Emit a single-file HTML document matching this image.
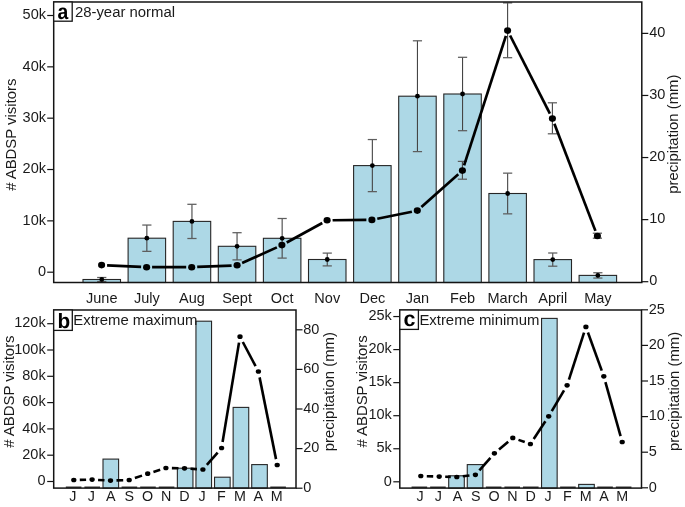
<!DOCTYPE html>
<html><head><meta charset="utf-8"><style>
html,body{margin:0;padding:0;background:#fff;overflow:hidden;}
svg{display:block;font-family:"Liberation Sans", sans-serif;will-change:transform;}
</style></head><body>
<svg width="685" height="507" viewBox="0 0 685 507">
<rect width="685" height="507" fill="#fff"/>
<rect x="83.0" y="279.5" width="37.5" height="3.0" fill="#add8e6" stroke="#262626" stroke-width="1.1"/>
<rect x="128.1" y="238.2" width="37.5" height="44.3" fill="#add8e6" stroke="#262626" stroke-width="1.1"/>
<rect x="173.2" y="221.4" width="37.5" height="61.1" fill="#add8e6" stroke="#262626" stroke-width="1.1"/>
<rect x="218.3" y="246.3" width="37.5" height="36.2" fill="#add8e6" stroke="#262626" stroke-width="1.1"/>
<rect x="263.4" y="238.3" width="37.5" height="44.2" fill="#add8e6" stroke="#262626" stroke-width="1.1"/>
<rect x="308.5" y="259.5" width="37.5" height="23.0" fill="#add8e6" stroke="#262626" stroke-width="1.1"/>
<rect x="353.6" y="165.6" width="37.5" height="116.9" fill="#add8e6" stroke="#262626" stroke-width="1.1"/>
<rect x="398.7" y="96.2" width="37.5" height="186.3" fill="#add8e6" stroke="#262626" stroke-width="1.1"/>
<rect x="443.8" y="94.0" width="37.5" height="188.5" fill="#add8e6" stroke="#262626" stroke-width="1.1"/>
<rect x="488.9" y="193.5" width="37.5" height="89.0" fill="#add8e6" stroke="#262626" stroke-width="1.1"/>
<rect x="534.0" y="259.6" width="37.5" height="22.9" fill="#add8e6" stroke="#262626" stroke-width="1.1"/>
<rect x="579.1" y="275.4" width="37.5" height="7.1" fill="#add8e6" stroke="#262626" stroke-width="1.1"/>
<line x1="101.75" y1="277.5" x2="101.75" y2="281.5" stroke="#454545" stroke-width="1.1"/>
<line x1="97.15" y1="277.5" x2="106.35" y2="277.5" stroke="#5e5e5e" stroke-width="1.25"/>
<line x1="97.15" y1="281.5" x2="106.35" y2="281.5" stroke="#5e5e5e" stroke-width="1.25"/>
<circle cx="101.75" cy="279.5" r="2.4" fill="#000"/>
<line x1="146.85" y1="225.05" x2="146.85" y2="251.35" stroke="#454545" stroke-width="1.1"/>
<line x1="142.25" y1="225.05" x2="151.45" y2="225.05" stroke="#5e5e5e" stroke-width="1.25"/>
<line x1="142.25" y1="251.35" x2="151.45" y2="251.35" stroke="#5e5e5e" stroke-width="1.25"/>
<circle cx="146.85" cy="238.2" r="2.4" fill="#000"/>
<line x1="191.95" y1="204.3" x2="191.95" y2="238.5" stroke="#454545" stroke-width="1.1"/>
<line x1="187.35" y1="204.3" x2="196.55" y2="204.3" stroke="#5e5e5e" stroke-width="1.25"/>
<line x1="187.35" y1="238.5" x2="196.55" y2="238.5" stroke="#5e5e5e" stroke-width="1.25"/>
<circle cx="191.95" cy="221.39999999999998" r="2.4" fill="#000"/>
<line x1="237.05" y1="232.7" x2="237.05" y2="259.9" stroke="#454545" stroke-width="1.1"/>
<line x1="232.45" y1="232.7" x2="241.65" y2="232.7" stroke="#5e5e5e" stroke-width="1.25"/>
<line x1="232.45" y1="259.9" x2="241.65" y2="259.9" stroke="#5e5e5e" stroke-width="1.25"/>
<circle cx="237.05" cy="246.29999999999998" r="2.4" fill="#000"/>
<line x1="282.15" y1="218.5" x2="282.15" y2="258.1" stroke="#454545" stroke-width="1.1"/>
<line x1="277.55" y1="218.5" x2="286.75" y2="218.5" stroke="#5e5e5e" stroke-width="1.25"/>
<line x1="277.55" y1="258.1" x2="286.75" y2="258.1" stroke="#5e5e5e" stroke-width="1.25"/>
<circle cx="282.15" cy="238.29999999999998" r="2.4" fill="#000"/>
<line x1="327.25" y1="253.1" x2="327.25" y2="265.9" stroke="#454545" stroke-width="1.1"/>
<line x1="322.65" y1="253.1" x2="331.85" y2="253.1" stroke="#5e5e5e" stroke-width="1.25"/>
<line x1="322.65" y1="265.9" x2="331.85" y2="265.9" stroke="#5e5e5e" stroke-width="1.25"/>
<circle cx="327.25" cy="259.5" r="2.4" fill="#000"/>
<line x1="372.35" y1="139.55" x2="372.35" y2="191.65" stroke="#454545" stroke-width="1.1"/>
<line x1="367.75" y1="139.55" x2="376.95" y2="139.55" stroke="#5e5e5e" stroke-width="1.25"/>
<line x1="367.75" y1="191.65" x2="376.95" y2="191.65" stroke="#5e5e5e" stroke-width="1.25"/>
<circle cx="372.35" cy="165.6" r="2.4" fill="#000"/>
<line x1="417.45" y1="40.8" x2="417.45" y2="151.6" stroke="#454545" stroke-width="1.1"/>
<line x1="412.85" y1="40.8" x2="422.05" y2="40.8" stroke="#5e5e5e" stroke-width="1.25"/>
<line x1="412.85" y1="151.6" x2="422.05" y2="151.6" stroke="#5e5e5e" stroke-width="1.25"/>
<circle cx="417.45" cy="96.2" r="2.4" fill="#000"/>
<line x1="462.55" y1="57.3" x2="462.55" y2="130.7" stroke="#454545" stroke-width="1.1"/>
<line x1="457.95" y1="57.3" x2="467.15" y2="57.3" stroke="#5e5e5e" stroke-width="1.25"/>
<line x1="457.95" y1="130.7" x2="467.15" y2="130.7" stroke="#5e5e5e" stroke-width="1.25"/>
<circle cx="462.55" cy="94.0" r="2.4" fill="#000"/>
<line x1="507.65" y1="173.15" x2="507.65" y2="213.85" stroke="#454545" stroke-width="1.1"/>
<line x1="503.05" y1="173.15" x2="512.25" y2="173.15" stroke="#5e5e5e" stroke-width="1.25"/>
<line x1="503.05" y1="213.85" x2="512.25" y2="213.85" stroke="#5e5e5e" stroke-width="1.25"/>
<circle cx="507.65000000000003" cy="193.5" r="2.4" fill="#000"/>
<line x1="552.75" y1="253.0" x2="552.75" y2="266.2" stroke="#454545" stroke-width="1.1"/>
<line x1="548.15" y1="253.0" x2="557.35" y2="253.0" stroke="#5e5e5e" stroke-width="1.25"/>
<line x1="548.15" y1="266.2" x2="557.35" y2="266.2" stroke="#5e5e5e" stroke-width="1.25"/>
<circle cx="552.75" cy="259.59999999999997" r="2.4" fill="#000"/>
<line x1="597.85" y1="272.75" x2="597.85" y2="278.05" stroke="#454545" stroke-width="1.1"/>
<line x1="593.25" y1="272.75" x2="602.45" y2="272.75" stroke="#5e5e5e" stroke-width="1.25"/>
<line x1="593.25" y1="278.05" x2="602.45" y2="278.05" stroke="#5e5e5e" stroke-width="1.25"/>
<circle cx="597.85" cy="275.4" r="2.4" fill="#000"/>
<line x1="462.4" y1="161.4" x2="462.4" y2="179.2" stroke="#454545" stroke-width="1.1"/>
<line x1="457.8" y1="161.4" x2="467.0" y2="161.4" stroke="#5e5e5e" stroke-width="1.25"/>
<line x1="457.8" y1="179.2" x2="467.0" y2="179.2" stroke="#5e5e5e" stroke-width="1.25"/>
<line x1="507.6" y1="2.9" x2="507.6" y2="57.7" stroke="#454545" stroke-width="1.1"/>
<line x1="503.0" y1="2.9" x2="512.2" y2="2.9" stroke="#5e5e5e" stroke-width="1.25"/>
<line x1="503.0" y1="57.7" x2="512.2" y2="57.7" stroke="#5e5e5e" stroke-width="1.25"/>
<line x1="552.4" y1="102.8" x2="552.4" y2="133.8" stroke="#454545" stroke-width="1.1"/>
<line x1="547.8" y1="102.8" x2="557.0" y2="102.8" stroke="#5e5e5e" stroke-width="1.25"/>
<line x1="547.8" y1="133.8" x2="557.0" y2="133.8" stroke="#5e5e5e" stroke-width="1.25"/>
<line x1="597.4" y1="233.2" x2="597.4" y2="238.2" stroke="#454545" stroke-width="1.1"/>
<line x1="592.8" y1="233.2" x2="602.0" y2="233.2" stroke="#5e5e5e" stroke-width="1.25"/>
<line x1="592.8" y1="238.2" x2="602.0" y2="238.2" stroke="#5e5e5e" stroke-width="1.25"/>
<line x1="107.09" y1="265.36" x2="141.11" y2="266.94" stroke="#000" stroke-width="2.7" stroke-linecap="butt"/>
<line x1="152.1" y1="267.2" x2="186.2" y2="267.2" stroke="#000" stroke-width="2.7" stroke-linecap="butt"/>
<line x1="197.2" y1="266.97" x2="231.6" y2="265.53" stroke="#000" stroke-width="2.7" stroke-linecap="butt"/>
<line x1="242.11" y1="263.04" x2="276.89" y2="247.36" stroke="#000" stroke-width="2.7" stroke-linecap="butt"/>
<line x1="286.72" y1="242.45" x2="322.28" y2="222.95" stroke="#000" stroke-width="2.7" stroke-linecap="butt"/>
<line x1="332.6" y1="220.25" x2="366.4" y2="219.95" stroke="#000" stroke-width="2.7" stroke-linecap="butt"/>
<line x1="377.29" y1="218.8" x2="411.91" y2="211.7" stroke="#000" stroke-width="2.7" stroke-linecap="butt"/>
<line x1="421.41" y1="206.95" x2="458.29" y2="174.25" stroke="#000" stroke-width="2.7" stroke-linecap="butt"/>
<line x1="464.09" y1="165.37" x2="505.91" y2="35.83" stroke="#000" stroke-width="2.7" stroke-linecap="butt"/>
<line x1="510.1" y1="35.5" x2="549.9" y2="113.7" stroke="#000" stroke-width="2.7" stroke-linecap="butt"/>
<line x1="554.37" y1="123.74" x2="595.43" y2="230.86" stroke="#000" stroke-width="2.7" stroke-linecap="butt"/>
<ellipse cx="101.6" cy="265.1" rx="3.55" ry="3.3" fill="#000"/>
<ellipse cx="146.6" cy="267.2" rx="3.55" ry="3.3" fill="#000"/>
<ellipse cx="191.7" cy="267.2" rx="3.55" ry="3.3" fill="#000"/>
<ellipse cx="237.1" cy="265.3" rx="3.55" ry="3.3" fill="#000"/>
<ellipse cx="281.9" cy="245.1" rx="3.55" ry="3.3" fill="#000"/>
<ellipse cx="327.1" cy="220.3" rx="3.55" ry="3.3" fill="#000"/>
<ellipse cx="371.9" cy="219.9" rx="3.55" ry="3.3" fill="#000"/>
<ellipse cx="417.3" cy="210.6" rx="3.55" ry="3.3" fill="#000"/>
<ellipse cx="462.4" cy="170.6" rx="3.55" ry="3.3" fill="#000"/>
<ellipse cx="507.6" cy="30.6" rx="3.55" ry="3.3" fill="#000"/>
<ellipse cx="552.4" cy="118.6" rx="3.55" ry="3.3" fill="#000"/>
<ellipse cx="597.4" cy="236.0" rx="3.55" ry="3.3" fill="#000"/>
<rect x="53.7" y="2" width="588.0999999999999" height="280.5" fill="none" stroke="#141414" stroke-width="1.5"/>
<line x1="47.2" y1="272.2" x2="53.7" y2="272.2" stroke="#141414" stroke-width="1.2"/>
<text x="46" y="275.9" font-size="14.5" text-anchor="end" font-weight="normal" fill="#1a1a1a">0</text>
<line x1="47.2" y1="220.86" x2="53.7" y2="220.86" stroke="#141414" stroke-width="1.2"/>
<text x="46" y="224.56" font-size="14.5" text-anchor="end" font-weight="normal" fill="#1a1a1a">10k</text>
<line x1="47.2" y1="169.52" x2="53.7" y2="169.52" stroke="#141414" stroke-width="1.2"/>
<text x="46" y="173.22" font-size="14.5" text-anchor="end" font-weight="normal" fill="#1a1a1a">20k</text>
<line x1="47.2" y1="118.18" x2="53.7" y2="118.18" stroke="#141414" stroke-width="1.2"/>
<text x="46" y="121.88" font-size="14.5" text-anchor="end" font-weight="normal" fill="#1a1a1a">30k</text>
<line x1="47.2" y1="66.84" x2="53.7" y2="66.84" stroke="#141414" stroke-width="1.2"/>
<text x="46" y="70.54" font-size="14.5" text-anchor="end" font-weight="normal" fill="#1a1a1a">40k</text>
<line x1="47.2" y1="15.5" x2="53.7" y2="15.5" stroke="#141414" stroke-width="1.2"/>
<text x="46" y="19.2" font-size="14.5" text-anchor="end" font-weight="normal" fill="#1a1a1a">50k</text>
<line x1="641.8" y1="281.7" x2="648.3" y2="281.7" stroke="#141414" stroke-width="1.2"/>
<text x="649.3" y="285.4" font-size="14.5" text-anchor="start" font-weight="normal" fill="#1a1a1a">0</text>
<line x1="641.8" y1="219.62" x2="648.3" y2="219.62" stroke="#141414" stroke-width="1.2"/>
<text x="649.3" y="223.32" font-size="14.5" text-anchor="start" font-weight="normal" fill="#1a1a1a">10</text>
<line x1="641.8" y1="157.54" x2="648.3" y2="157.54" stroke="#141414" stroke-width="1.2"/>
<text x="649.3" y="161.24" font-size="14.5" text-anchor="start" font-weight="normal" fill="#1a1a1a">20</text>
<line x1="641.8" y1="95.46" x2="648.3" y2="95.46" stroke="#141414" stroke-width="1.2"/>
<text x="649.3" y="99.16" font-size="14.5" text-anchor="start" font-weight="normal" fill="#1a1a1a">30</text>
<line x1="641.8" y1="33.38" x2="648.3" y2="33.38" stroke="#141414" stroke-width="1.2"/>
<text x="649.3" y="37.08" font-size="14.5" text-anchor="start" font-weight="normal" fill="#1a1a1a">40</text>
<text x="101.75" y="303.4" font-size="14.5" text-anchor="middle" font-weight="normal" fill="#1a1a1a">June</text>
<text x="146.85" y="303.4" font-size="14.5" text-anchor="middle" font-weight="normal" fill="#1a1a1a">July</text>
<text x="191.95" y="303.4" font-size="14.5" text-anchor="middle" font-weight="normal" fill="#1a1a1a">Aug</text>
<text x="237.05" y="303.4" font-size="14.5" text-anchor="middle" font-weight="normal" fill="#1a1a1a">Sept</text>
<text x="282.15" y="303.4" font-size="14.5" text-anchor="middle" font-weight="normal" fill="#1a1a1a">Oct</text>
<text x="327.25" y="303.4" font-size="14.5" text-anchor="middle" font-weight="normal" fill="#1a1a1a">Nov</text>
<text x="372.35" y="303.4" font-size="14.5" text-anchor="middle" font-weight="normal" fill="#1a1a1a">Dec</text>
<text x="417.45" y="303.4" font-size="14.5" text-anchor="middle" font-weight="normal" fill="#1a1a1a">Jan</text>
<text x="462.55" y="303.4" font-size="14.5" text-anchor="middle" font-weight="normal" fill="#1a1a1a">Feb</text>
<text x="507.65" y="303.4" font-size="14.5" text-anchor="middle" font-weight="normal" fill="#1a1a1a">March</text>
<text x="552.75" y="303.4" font-size="14.5" text-anchor="middle" font-weight="normal" fill="#1a1a1a">April</text>
<text x="597.85" y="303.4" font-size="14.5" text-anchor="middle" font-weight="normal" fill="#1a1a1a">May</text>
<rect x="53.7" y="2" width="18.5" height="19.2" fill="#fff" stroke="#141414" stroke-width="1.3"/>
<text x="57.4" y="18.5" font-size="21.5" text-anchor="start" font-weight="bold" fill="#000" transform="translate(57.4 18.5) scale(0.9 1) translate(-57.4 -18.5)" text-rendering="geometricPrecision">a</text>
<text x="74.9" y="17.1" font-size="14.9" text-anchor="start" font-weight="normal" fill="#1a1a1a">28-year normal</text>
<text x="16" y="134.7" font-size="14.9" text-anchor="middle" font-weight="normal" fill="#1a1a1a" transform="rotate(-90 16 134.7)"># ABDSP visitors</text>
<text x="677.9" y="134.1" font-size="14.9" text-anchor="middle" font-weight="normal" fill="#1a1a1a" transform="rotate(-90 677.9 134.1)">precipitation (mm)</text>
<rect x="65.82" y="486.5" width="15.6" height="1.6" fill="#333"/>
<rect x="84.41" y="486.5" width="15.6" height="1.6" fill="#333"/>
<rect x="103.0" y="459.1" width="15.6" height="29.0" fill="#add8e6" stroke="#262626" stroke-width="1.1"/>
<rect x="121.59" y="486.5" width="15.6" height="1.6" fill="#333"/>
<rect x="140.18" y="486.5" width="15.6" height="1.6" fill="#333"/>
<rect x="158.77" y="486.5" width="15.6" height="1.6" fill="#333"/>
<rect x="177.36" y="468.2" width="15.6" height="19.9" fill="#add8e6" stroke="#262626" stroke-width="1.1"/>
<rect x="195.95" y="321.2" width="15.6" height="166.9" fill="#add8e6" stroke="#262626" stroke-width="1.1"/>
<rect x="214.54" y="477.2" width="15.6" height="10.9" fill="#add8e6" stroke="#262626" stroke-width="1.1"/>
<rect x="233.13" y="407.4" width="15.6" height="80.7" fill="#add8e6" stroke="#262626" stroke-width="1.1"/>
<rect x="251.72" y="464.6" width="15.6" height="23.5" fill="#add8e6" stroke="#262626" stroke-width="1.1"/>
<rect x="270.31" y="486.5" width="15.6" height="1.6" fill="#333"/>
<line x1="79.8" y1="479.87" x2="86.1" y2="479.73" stroke="#000" stroke-width="2.6" stroke-linecap="butt"/>
<line x1="98.09" y1="479.93" x2="104.51" y2="480.27" stroke="#000" stroke-width="2.6" stroke-linecap="butt"/>
<line x1="116.5" y1="480.41" x2="123.2" y2="480.19" stroke="#000" stroke-width="2.6" stroke-linecap="butt"/>
<line x1="134.88" y1="478.07" x2="142.02" y2="475.63" stroke="#000" stroke-width="2.6" stroke-linecap="butt"/>
<line x1="153.43" y1="471.91" x2="160.17" y2="469.79" stroke="#000" stroke-width="2.6" stroke-linecap="butt"/>
<line x1="171.9" y1="468.1" x2="178.5" y2="468.2" stroke="#000" stroke-width="2.6" stroke-linecap="butt"/>
<line x1="190.49" y1="468.69" x2="196.91" y2="469.11" stroke="#000" stroke-width="2.6" stroke-linecap="butt"/>
<line x1="206.84" y1="464.97" x2="217.66" y2="452.53" stroke="#000" stroke-width="2.6" stroke-linecap="butt"/>
<line x1="222.58" y1="442.08" x2="239.02" y2="342.62" stroke="#000" stroke-width="2.6" stroke-linecap="butt"/>
<line x1="242.8" y1="342.0" x2="255.6" y2="366.2" stroke="#000" stroke-width="2.6" stroke-linecap="butt"/>
<line x1="259.58" y1="377.38" x2="276.02" y2="459.12" stroke="#000" stroke-width="2.6" stroke-linecap="butt"/>
<ellipse cx="73.8" cy="480" rx="2.65" ry="2.35" fill="#000"/>
<ellipse cx="92.1" cy="479.6" rx="2.65" ry="2.35" fill="#000"/>
<ellipse cx="110.5" cy="480.6" rx="2.65" ry="2.35" fill="#000"/>
<ellipse cx="129.2" cy="480" rx="2.65" ry="2.35" fill="#000"/>
<ellipse cx="147.7" cy="473.7" rx="2.65" ry="2.35" fill="#000"/>
<ellipse cx="165.9" cy="468" rx="2.65" ry="2.35" fill="#000"/>
<ellipse cx="184.5" cy="468.3" rx="2.65" ry="2.35" fill="#000"/>
<ellipse cx="202.9" cy="469.5" rx="2.65" ry="2.35" fill="#000"/>
<ellipse cx="221.6" cy="448" rx="2.65" ry="2.35" fill="#000"/>
<ellipse cx="240" cy="336.7" rx="2.65" ry="2.35" fill="#000"/>
<ellipse cx="258.4" cy="371.5" rx="2.65" ry="2.35" fill="#000"/>
<ellipse cx="277.2" cy="465" rx="2.65" ry="2.35" fill="#000"/>
<rect x="53.7" y="310" width="242.3" height="178.10000000000002" fill="none" stroke="#141414" stroke-width="1.5"/>
<line x1="47.2" y1="481.5" x2="53.7" y2="481.5" stroke="#141414" stroke-width="1.2"/>
<text x="45.7" y="485.2" font-size="14.5" text-anchor="end" font-weight="normal" fill="#1a1a1a">0</text>
<line x1="47.2" y1="455.2" x2="53.7" y2="455.2" stroke="#141414" stroke-width="1.2"/>
<text x="45.7" y="458.9" font-size="14.5" text-anchor="end" font-weight="normal" fill="#1a1a1a">20k</text>
<line x1="47.2" y1="428.9" x2="53.7" y2="428.9" stroke="#141414" stroke-width="1.2"/>
<text x="45.7" y="432.6" font-size="14.5" text-anchor="end" font-weight="normal" fill="#1a1a1a">40k</text>
<line x1="47.2" y1="402.6" x2="53.7" y2="402.6" stroke="#141414" stroke-width="1.2"/>
<text x="45.7" y="406.3" font-size="14.5" text-anchor="end" font-weight="normal" fill="#1a1a1a">60k</text>
<line x1="47.2" y1="376.3" x2="53.7" y2="376.3" stroke="#141414" stroke-width="1.2"/>
<text x="45.7" y="380.0" font-size="14.5" text-anchor="end" font-weight="normal" fill="#1a1a1a">80k</text>
<line x1="47.2" y1="350.0" x2="53.7" y2="350.0" stroke="#141414" stroke-width="1.2"/>
<text x="45.7" y="353.7" font-size="14.5" text-anchor="end" font-weight="normal" fill="#1a1a1a">100k</text>
<line x1="47.2" y1="323.7" x2="53.7" y2="323.7" stroke="#141414" stroke-width="1.2"/>
<text x="45.7" y="327.4" font-size="14.5" text-anchor="end" font-weight="normal" fill="#1a1a1a">120k</text>
<line x1="296" y1="488.2" x2="302.5" y2="488.2" stroke="#141414" stroke-width="1.2"/>
<text x="303.3" y="491.9" font-size="14.5" text-anchor="start" font-weight="normal" fill="#1a1a1a">0</text>
<line x1="296" y1="448.6" x2="302.5" y2="448.6" stroke="#141414" stroke-width="1.2"/>
<text x="303.3" y="452.3" font-size="14.5" text-anchor="start" font-weight="normal" fill="#1a1a1a">20</text>
<line x1="296" y1="409.0" x2="302.5" y2="409.0" stroke="#141414" stroke-width="1.2"/>
<text x="303.3" y="412.7" font-size="14.5" text-anchor="start" font-weight="normal" fill="#1a1a1a">40</text>
<line x1="296" y1="369.4" x2="302.5" y2="369.4" stroke="#141414" stroke-width="1.2"/>
<text x="303.3" y="373.1" font-size="14.5" text-anchor="start" font-weight="normal" fill="#1a1a1a">60</text>
<line x1="296" y1="329.8" x2="302.5" y2="329.8" stroke="#141414" stroke-width="1.2"/>
<text x="303.3" y="333.5" font-size="14.5" text-anchor="start" font-weight="normal" fill="#1a1a1a">80</text>
<text x="72.9" y="501.2" font-size="14.3" text-anchor="middle" font-weight="normal" fill="#1a1a1a">J</text>
<text x="91.35" y="501.2" font-size="14.3" text-anchor="middle" font-weight="normal" fill="#1a1a1a">J</text>
<text x="110.7" y="501.2" font-size="14.3" text-anchor="middle" font-weight="normal" fill="#1a1a1a">A</text>
<text x="129.15" y="501.2" font-size="14.3" text-anchor="middle" font-weight="normal" fill="#1a1a1a">S</text>
<text x="147.6" y="501.2" font-size="14.3" text-anchor="middle" font-weight="normal" fill="#1a1a1a">O</text>
<text x="166.05" y="501.2" font-size="14.3" text-anchor="middle" font-weight="normal" fill="#1a1a1a">N</text>
<text x="184.5" y="501.2" font-size="14.3" text-anchor="middle" font-weight="normal" fill="#1a1a1a">D</text>
<text x="202.05" y="501.2" font-size="14.3" text-anchor="middle" font-weight="normal" fill="#1a1a1a">J</text>
<text x="221.4" y="501.2" font-size="14.3" text-anchor="middle" font-weight="normal" fill="#1a1a1a">F</text>
<text x="239.85" y="501.2" font-size="14.3" text-anchor="middle" font-weight="normal" fill="#1a1a1a">M</text>
<text x="258.3" y="501.2" font-size="14.3" text-anchor="middle" font-weight="normal" fill="#1a1a1a">A</text>
<text x="276.75" y="501.2" font-size="14.3" text-anchor="middle" font-weight="normal" fill="#1a1a1a">M</text>
<rect x="53.7" y="310" width="18.6" height="20.4" fill="#fff" stroke="#141414" stroke-width="1.3"/>
<text x="57.6" y="328.4" font-size="20.8" text-anchor="start" font-weight="bold" fill="#000" text-rendering="geometricPrecision">b</text>
<text x="73.3" y="325.1" font-size="14.9" text-anchor="start" font-weight="normal" fill="#1a1a1a">Extreme maximum</text>
<text x="14.2" y="391.6" font-size="14.9" text-anchor="middle" font-weight="normal" fill="#1a1a1a" transform="rotate(-90 14.2 391.6)"># ABDSP visitors</text>
<text x="334.5" y="391.6" font-size="14.9" text-anchor="middle" font-weight="normal" fill="#1a1a1a" transform="rotate(-90 334.5 391.6)">precipitation (mm)</text>
<rect x="411.56" y="486.5" width="15.6" height="1.6" fill="#333"/>
<rect x="430.13" y="486.5" width="15.6" height="1.6" fill="#333"/>
<rect x="448.7" y="475.8" width="15.6" height="12.3" fill="#add8e6" stroke="#262626" stroke-width="1.1"/>
<rect x="467.27" y="464.6" width="15.6" height="23.5" fill="#add8e6" stroke="#262626" stroke-width="1.1"/>
<rect x="485.84" y="486.5" width="15.6" height="1.6" fill="#333"/>
<rect x="504.41" y="486.5" width="15.6" height="1.6" fill="#333"/>
<rect x="522.98" y="486.5" width="15.6" height="1.6" fill="#333"/>
<rect x="541.55" y="318.4" width="15.6" height="169.7" fill="#add8e6" stroke="#262626" stroke-width="1.1"/>
<rect x="560.12" y="486.5" width="15.6" height="1.6" fill="#333"/>
<rect x="578.69" y="484.4" width="15.6" height="3.7" fill="#add8e6" stroke="#262626" stroke-width="1.1"/>
<rect x="597.26" y="486.5" width="15.6" height="1.6" fill="#333"/>
<rect x="615.83" y="486.5" width="15.6" height="1.6" fill="#333"/>
<line x1="426.8" y1="476.2" x2="433.2" y2="476.4" stroke="#000" stroke-width="2.6" stroke-linecap="butt"/>
<line x1="445.2" y1="476.74" x2="450.8" y2="476.86" stroke="#000" stroke-width="2.6" stroke-linecap="butt"/>
<line x1="462.76" y1="476.3" x2="469.44" y2="475.5" stroke="#000" stroke-width="2.6" stroke-linecap="butt"/>
<line x1="479.37" y1="470.3" x2="490.43" y2="457.8" stroke="#000" stroke-width="2.6" stroke-linecap="butt"/>
<line x1="499.0" y1="449.45" x2="508.2" y2="441.75" stroke="#000" stroke-width="2.6" stroke-linecap="butt"/>
<line x1="518.47" y1="439.86" x2="524.73" y2="442.04" stroke="#000" stroke-width="2.6" stroke-linecap="butt"/>
<line x1="533.71" y1="438.99" x2="545.39" y2="421.31" stroke="#000" stroke-width="2.6" stroke-linecap="butt"/>
<line x1="551.76" y1="411.14" x2="564.04" y2="390.46" stroke="#000" stroke-width="2.6" stroke-linecap="butt"/>
<line x1="568.94" y1="379.59" x2="584.06" y2="332.61" stroke="#000" stroke-width="2.6" stroke-linecap="butt"/>
<line x1="587.94" y1="332.54" x2="601.76" y2="370.66" stroke="#000" stroke-width="2.6" stroke-linecap="butt"/>
<line x1="605.42" y1="382.08" x2="620.58" y2="436.22" stroke="#000" stroke-width="2.6" stroke-linecap="butt"/>
<ellipse cx="420.8" cy="476" rx="2.65" ry="2.35" fill="#000"/>
<ellipse cx="439.2" cy="476.6" rx="2.65" ry="2.35" fill="#000"/>
<ellipse cx="456.8" cy="477" rx="2.65" ry="2.35" fill="#000"/>
<ellipse cx="475.4" cy="474.8" rx="2.65" ry="2.35" fill="#000"/>
<ellipse cx="494.4" cy="453.3" rx="2.65" ry="2.35" fill="#000"/>
<ellipse cx="512.8" cy="437.9" rx="2.65" ry="2.35" fill="#000"/>
<ellipse cx="530.4" cy="444" rx="2.65" ry="2.35" fill="#000"/>
<ellipse cx="548.7" cy="416.3" rx="2.65" ry="2.35" fill="#000"/>
<ellipse cx="567.1" cy="385.3" rx="2.65" ry="2.35" fill="#000"/>
<ellipse cx="585.9" cy="326.9" rx="2.65" ry="2.35" fill="#000"/>
<ellipse cx="603.8" cy="376.3" rx="2.65" ry="2.35" fill="#000"/>
<ellipse cx="622.2" cy="442" rx="2.65" ry="2.35" fill="#000"/>
<rect x="399.8" y="310" width="241.7" height="178.10000000000002" fill="none" stroke="#141414" stroke-width="1.5"/>
<line x1="393.3" y1="481.8" x2="399.8" y2="481.8" stroke="#141414" stroke-width="1.2"/>
<text x="391.8" y="485.5" font-size="14.5" text-anchor="end" font-weight="normal" fill="#1a1a1a">0</text>
<line x1="393.3" y1="448.75" x2="399.8" y2="448.75" stroke="#141414" stroke-width="1.2"/>
<text x="391.8" y="452.45" font-size="14.5" text-anchor="end" font-weight="normal" fill="#1a1a1a">5k</text>
<line x1="393.3" y1="415.7" x2="399.8" y2="415.7" stroke="#141414" stroke-width="1.2"/>
<text x="391.8" y="419.4" font-size="14.5" text-anchor="end" font-weight="normal" fill="#1a1a1a">10k</text>
<line x1="393.3" y1="382.65" x2="399.8" y2="382.65" stroke="#141414" stroke-width="1.2"/>
<text x="391.8" y="386.35" font-size="14.5" text-anchor="end" font-weight="normal" fill="#1a1a1a">15k</text>
<line x1="393.3" y1="349.6" x2="399.8" y2="349.6" stroke="#141414" stroke-width="1.2"/>
<text x="391.8" y="353.3" font-size="14.5" text-anchor="end" font-weight="normal" fill="#1a1a1a">20k</text>
<line x1="393.3" y1="316.55" x2="399.8" y2="316.55" stroke="#141414" stroke-width="1.2"/>
<text x="391.8" y="320.25" font-size="14.5" text-anchor="end" font-weight="normal" fill="#1a1a1a">25k</text>
<line x1="641.5" y1="487.8" x2="648.0" y2="487.8" stroke="#141414" stroke-width="1.2"/>
<text x="648.8" y="491.5" font-size="14.5" text-anchor="start" font-weight="normal" fill="#1a1a1a">0</text>
<line x1="641.5" y1="452.2" x2="648.0" y2="452.2" stroke="#141414" stroke-width="1.2"/>
<text x="648.8" y="455.9" font-size="14.5" text-anchor="start" font-weight="normal" fill="#1a1a1a">5</text>
<line x1="641.5" y1="416.6" x2="648.0" y2="416.6" stroke="#141414" stroke-width="1.2"/>
<text x="648.8" y="420.3" font-size="14.5" text-anchor="start" font-weight="normal" fill="#1a1a1a">10</text>
<line x1="641.5" y1="381.0" x2="648.0" y2="381.0" stroke="#141414" stroke-width="1.2"/>
<text x="648.8" y="384.7" font-size="14.5" text-anchor="start" font-weight="normal" fill="#1a1a1a">15</text>
<line x1="641.5" y1="345.4" x2="648.0" y2="345.4" stroke="#141414" stroke-width="1.2"/>
<text x="648.8" y="349.1" font-size="14.5" text-anchor="start" font-weight="normal" fill="#1a1a1a">20</text>
<line x1="641.5" y1="309.8" x2="648.0" y2="309.8" stroke="#141414" stroke-width="1.2"/>
<text x="648.8" y="313.5" font-size="14.5" text-anchor="start" font-weight="normal" fill="#1a1a1a">25</text>
<text x="420.0" y="501.2" font-size="14.3" text-anchor="middle" font-weight="normal" fill="#1a1a1a">J</text>
<text x="438.3" y="501.2" font-size="14.3" text-anchor="middle" font-weight="normal" fill="#1a1a1a">J</text>
<text x="457.5" y="501.2" font-size="14.3" text-anchor="middle" font-weight="normal" fill="#1a1a1a">A</text>
<text x="475.8" y="501.2" font-size="14.3" text-anchor="middle" font-weight="normal" fill="#1a1a1a">S</text>
<text x="494.1" y="501.2" font-size="14.3" text-anchor="middle" font-weight="normal" fill="#1a1a1a">O</text>
<text x="512.4" y="501.2" font-size="14.3" text-anchor="middle" font-weight="normal" fill="#1a1a1a">N</text>
<text x="530.7" y="501.2" font-size="14.3" text-anchor="middle" font-weight="normal" fill="#1a1a1a">D</text>
<text x="548.1" y="501.2" font-size="14.3" text-anchor="middle" font-weight="normal" fill="#1a1a1a">J</text>
<text x="567.3" y="501.2" font-size="14.3" text-anchor="middle" font-weight="normal" fill="#1a1a1a">F</text>
<text x="585.6" y="501.2" font-size="14.3" text-anchor="middle" font-weight="normal" fill="#1a1a1a">M</text>
<text x="603.9" y="501.2" font-size="14.3" text-anchor="middle" font-weight="normal" fill="#1a1a1a">A</text>
<text x="622.2" y="501.2" font-size="14.3" text-anchor="middle" font-weight="normal" fill="#1a1a1a">M</text>
<rect x="399.8" y="310" width="18.6" height="19.4" fill="#fff" stroke="#141414" stroke-width="1.3"/>
<text x="403.4" y="326.3" font-size="21.5" text-anchor="start" font-weight="bold" fill="#000" text-rendering="geometricPrecision">c</text>
<text x="419.4" y="325.1" font-size="14.9" text-anchor="start" font-weight="normal" fill="#1a1a1a">Extreme minimum</text>
<text x="367.3" y="391.4" font-size="14.9" text-anchor="middle" font-weight="normal" fill="#1a1a1a" transform="rotate(-90 367.3 391.4)"># ABDSP visitors</text>
<text x="679" y="391.4" font-size="14.9" text-anchor="middle" font-weight="normal" fill="#1a1a1a" transform="rotate(-90 679 391.4)">precipitation (mm)</text>
</svg>
</body></html>
